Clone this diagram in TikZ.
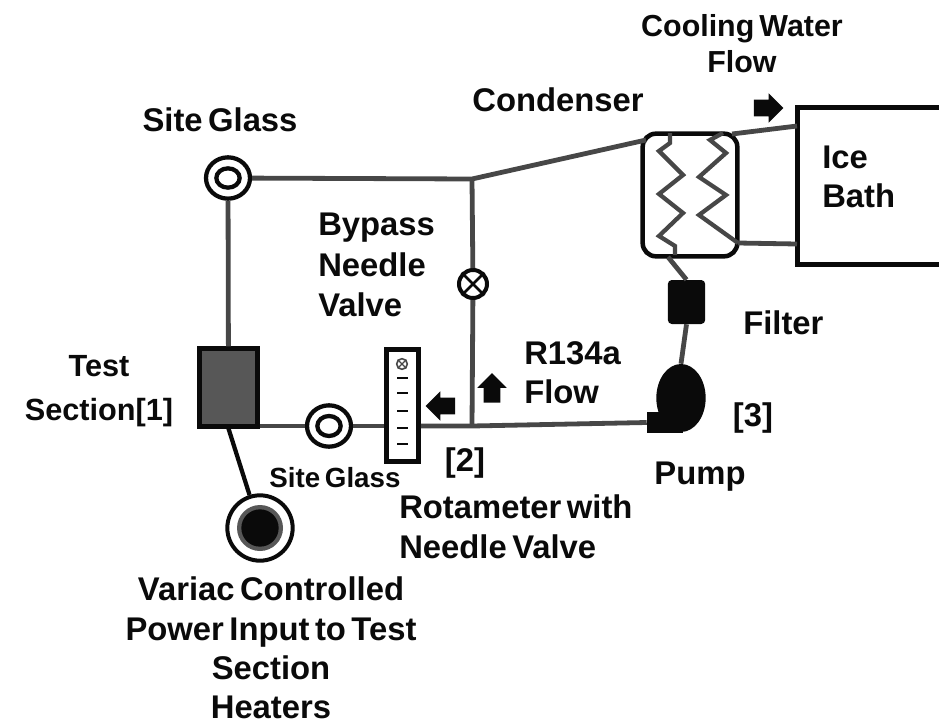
\documentclass[tikz,border=0pt]{standalone}
\usepackage{fontspec}
\setmainfont[WordSpace=0.6]{Liberation Sans}
\usepackage{xcolor}
\usetikzlibrary{calc,shapes.geometric,shapes.arrows}
\definecolor{PipeGray}{HTML}{474747}
\definecolor{SectionGray}{HTML}{575757}
\definecolor{InkBlack}{HTML}{0A0A0A}
\tikzset{
  pipe/.style={draw=PipeGray,line width=3.6pt},
  wire/.style={draw=InkBlack,line width=3.2pt},
  coil/.style={draw=PipeGray,line width=3.2pt,line join=miter},
  label/.style={inner sep=0pt,text=InkBlack,font=\bfseries\fontsize{24.6}{29.4}\selectfont,align=left},
  labelmid/.style={label,align=center},
  labelsmall/.style={label,font=\bfseries\fontsize{20.8}{24}\selectfont},
  ring/.style={circle,draw=InkBlack,fill=white,line width=3pt,inner sep=0pt},
  glassring/.style={ellipse,draw=InkBlack,fill=white,line width=3.2pt,inner sep=0pt},
  flowarrow/.style={single arrow,fill=InkBlack,inner sep=6pt,minimum height=22pt,minimum width=21.5pt,single arrow head extend=4.8pt,shape border rotate=#1},
  tick/.style={draw=InkBlack,line width=1.4pt}
}
\begin{document}
\begin{tikzpicture}[x=0.75pt,y=-0.75pt]
  \useasboundingbox (0,0) rectangle (939,725);
  \clip (0,0) rectangle (939,725);
  % joints on the pipe runs
  \coordinate (teetop) at (472,179);
  \coordinate (teelow) at (472,426);
  \coordinate (condin) at (646,140);
  \coordinate (condout) at (732,134);
  \coordinate (condret) at (738,243);
  \coordinate (condlow) at (668,257);
  \coordinate (bathin) at (797,126);
  \coordinate (bathret) at (797,244);
  % parts
  \node[draw=InkBlack,fill=SectionGray,line width=3.6pt,minimum width=44pt,minimum height=58pt,inner sep=0pt] (testsection) at (228.5,387.5) {};
  \node[glassring,minimum width=33pt,minimum height=31pt] (glasstop) at (228,178) {};
  \node[glassring,minimum width=17.5pt,minimum height=14.5pt] (glasstopin) at (228,178) {};
  \node[glassring,minimum width=33pt,minimum height=31pt] (glasslow) at (329,426) {};
  \node[glassring,minimum width=17.5pt,minimum height=15pt] (glasslowin) at (329,426) {};
  \node[draw=InkBlack,fill=white,line width=3.4pt,minimum width=24pt,minimum height=84pt,inner sep=0pt] (rotameter) at (402.5,405.5) {};
  \node[ring,minimum size=21pt] (bypass) at (473,284) {};
  \node[draw=InkBlack,fill=white,line width=3.4pt,rounded corners=10pt,minimum width=71pt,minimum height=92pt,inner sep=0pt] (condenser) at (690,195) {};
  \node[draw=InkBlack,fill=white,line width=3.6pt,minimum width=130pt,minimum height=118pt,inner sep=0pt] (icebath) at (884,186) {};
  \node[fill=InkBlack,rounded corners=3pt,minimum width=28pt,minimum height=33pt,inner sep=0pt] (filter) at (686.5,302) {};
  \node[ellipse,fill=InkBlack,minimum width=37pt,minimum height=51pt,inner sep=0pt] (pump) at (681,398) {};
  \node[fill=InkBlack,minimum width=27pt,minimum height=16pt,inner sep=0pt] (pumpout) at (665,422.5) {};
  \node[ring,minimum size=49pt] (variac) at (260,528) {};
  \node[circle,fill=SectionGray,minimum size=34.5pt,inner sep=0pt] (variacrim) at (260,528) {};
  \node[circle,fill=InkBlack,minimum size=28pt,inner sep=0pt] (variaccore) at (260,528) {};
  % pipes
  \draw[pipe] (glasstop) -- (testsection);
  \draw[pipe] (glasstop) -- (teetop) -- (condin);
  \draw[pipe] (condout) -- (bathin);
  \draw[pipe] (condret) -- (bathret);
  \draw[pipe] (teetop) -- (bypass);
  \draw[pipe] (bypass) -- (teelow);
  \draw[pipe] (pumpout.west) -- (teelow) -- (rotameter.east |- teelow);
  \draw[pipe] (rotameter.west |- glasslow) -- (glasslow);
  \draw[pipe] (glasslow) -- (testsection.east |- glasslow);
  \draw[pipe] (filter.south) -- (pump.north);
  \draw[pipe] (condlow) -- (filter.north);
  \draw[wire] (testsection.south) -- (variac);
  % coils
  \draw[coil] (670,133) -- (670,143) -- (659,151) -- (683,175) -- (659,194) -- (683,213) -- (659,236) -- (675,246) -- (675,255);
  \draw[coil] (723,133) -- (710,140) -- (726,153) -- (699,177) -- (726,195) -- (699,215) -- (condret);
  % valve crosses
  \draw[line width=2pt,draw=InkBlack] (bypass.45) -- (bypass.225) (bypass.135) -- (bypass.315);
  \node[circle,draw=PipeGray,line width=1.2pt,minimum size=8pt,inner sep=0pt] (needle) at (402,364) {};
  \draw[line width=1pt,draw=PipeGray] (needle.45) -- (needle.225) (needle.135) -- (needle.315);
  % scale marks
  \foreach \ya in {378,393,411,428,444}
    \draw[tick] (397,\ya) -- (408,\ya);
  % flow arrows
  \node[flowarrow=0] (coolarrow) at (764.5,108) {};
  \node[flowarrow=180] (backarrow) at (444.5,406) {};
  \node[flowarrow=90] (uparrow) at (492,392) {};
  % labels
  \node[labelmid,font=\bfseries\fontsize{22.8}{29.4}\selectfont] (coolinglabel) at (742,44) {Cooling Water\\[-2.5pt]Flow};
  \node[label] (condenserlabel) at (558,100) {Condenser};
  \node[label] (glasstoplabel) at (220,120) {Site Glass};
  \node[label,anchor=west] (bypasslabel) at (318,265) {Bypass\\[1pt]Needle\\[1pt]Valve};
  \node[labelmid,font=\bfseries\fontsize{23}{29.4}\selectfont] (testlabel) at (99,391) {Test\\[3.5pt]Section[1]};
  \node[label,anchor=west] (flowlabel) at (524,373) {R134a\\Flow};
  \node[label,anchor=west] (filterlabel) at (743,323) {Filter};
  \node[label] (threelabel) at (753,418) {[3]};
  \node[label] (twolabel) at (465,463) {[2]};
  \node[label] (pumplabel) at (700,477) {Pump};
  \node[labelsmall] (glasslowlabel) at (335,478) {Site Glass};
  \node[label,anchor=west] (rotameterlabel) at (399,527) {Rotameter with\\[1pt]Needle Valve};
  \node[label,anchor=west] (bathlabel) at (822,177) {Ice\\Bath};
  \node[labelmid] (variaclabel) at (271,648) {Variac Controlled\\Power Input to Test\\Section\\Heaters};
\end{tikzpicture}
\end{document}
